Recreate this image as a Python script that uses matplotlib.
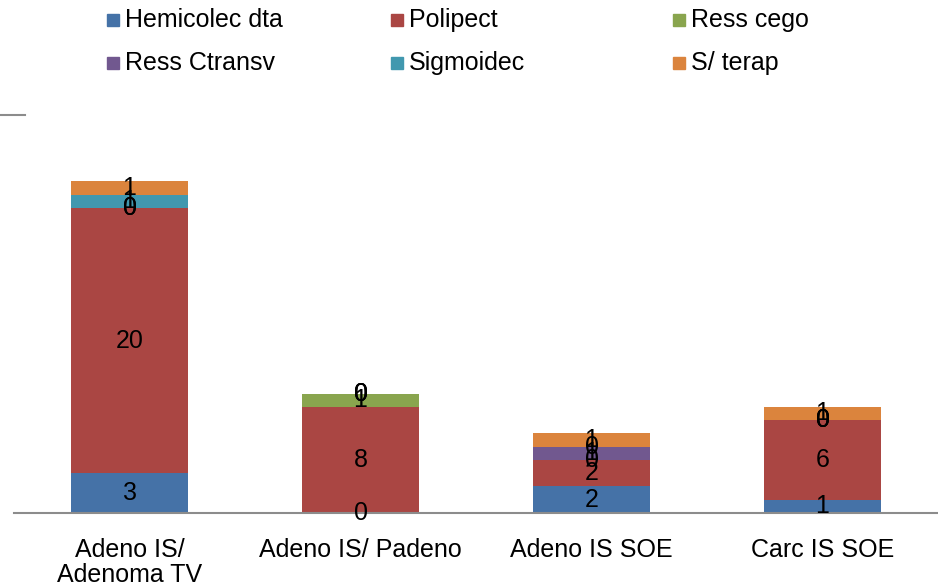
import matplotlib
matplotlib.use("Agg")
import matplotlib.pyplot as plt
import numpy as np
from matplotlib.lines import Line2D
from matplotlib.patches import Rectangle

plt.rcParams['font.family'] = ['Liberation Sans', 'DejaVu Sans']

categories = ["Adeno IS/\nAdenoma TV", "Adeno IS/ Padeno", "Adeno IS SOE", "Carc IS SOE"]
series_names = ["Hemicolec dta", "Polipect", "Ress cego", "Ress Ctransv", "Sigmoidec", "S/ terap"]
hemicolec = [3, 0, 2, 1]
polipect = [20, 8, 2, 6]
ress_cego = [0, 1, 0, 0]
ress_ctransv = [0, 0, 1, 0]
sigmoidec = [1, 0, 0, 0]
s_terap = [1, 0, 1, 1]
colors = ["#4572A7", "#AA4643", "#89A54E", "#71588F", "#4198AF", "#DB843D"]

W, H = 938, 587
fig = plt.figure(figsize=(W / 100, H / 100), dpi=100)
ax = fig.add_axes([14 / W, (H - 513) / H, 1 - 14 / W, (513 - 115) / H])

x = np.arange(len(categories))
bottom = np.zeros(len(categories))
all_series = [hemicolec, polipect, ress_cego, ress_ctransv, sigmoidec, s_terap]
for name, vals, c in zip(series_names, all_series, colors):
    vals = np.array(vals, dtype=float)
    ax.bar(x, vals, 0.51, bottom=bottom, color=c, label=name, zorder=2)
    for xi, b, v in zip(x, bottom, vals):
        ax.text(xi, b + v / 2, f"{int(v)}", ha="center", va="center",
                fontsize=18, color="black", zorder=5)
    bottom += vals

ax.set_xlim(-0.5, len(categories) - 0.5)
ax.set_ylim(0, 30)
ax.set_yticks([])
ax.set_xticks(x)
ax.set_xticklabels(categories, fontsize=18, linespacing=1.05)
ax.tick_params(axis="x", length=0, pad=18)
for s in ["top", "right", "left"]:
    ax.spines[s].set_visible(False)
ax.spines["bottom"].set_color("#8c8c8c")
ax.spines["bottom"].set_linewidth(1.5)

# short line top-left
fig.add_artist(Line2D([0, 25 / W], [(H - 115) / H, (H - 115) / H],
                      color="#8c8c8c", lw=1.5, transform=fig.transFigure))

# legend (manual, equal column widths like the original)
leg_x = [107, 391, 673]
leg_y = [20, 63]
for i, (name, c) in enumerate(zip(series_names, colors)):
    r, col = divmod(i, 3)
    px, py = leg_x[col], leg_y[r]
    fig.add_artist(Rectangle((px / W, (H - py - 6) / H), 12 / W, 12 / H,
                             color=c, transform=fig.transFigure))
    fig.text((px + 18) / W, (H - py) / H, name, fontsize=18,
             ha="left", va="center")

fig.savefig("out.png", dpi=100)
